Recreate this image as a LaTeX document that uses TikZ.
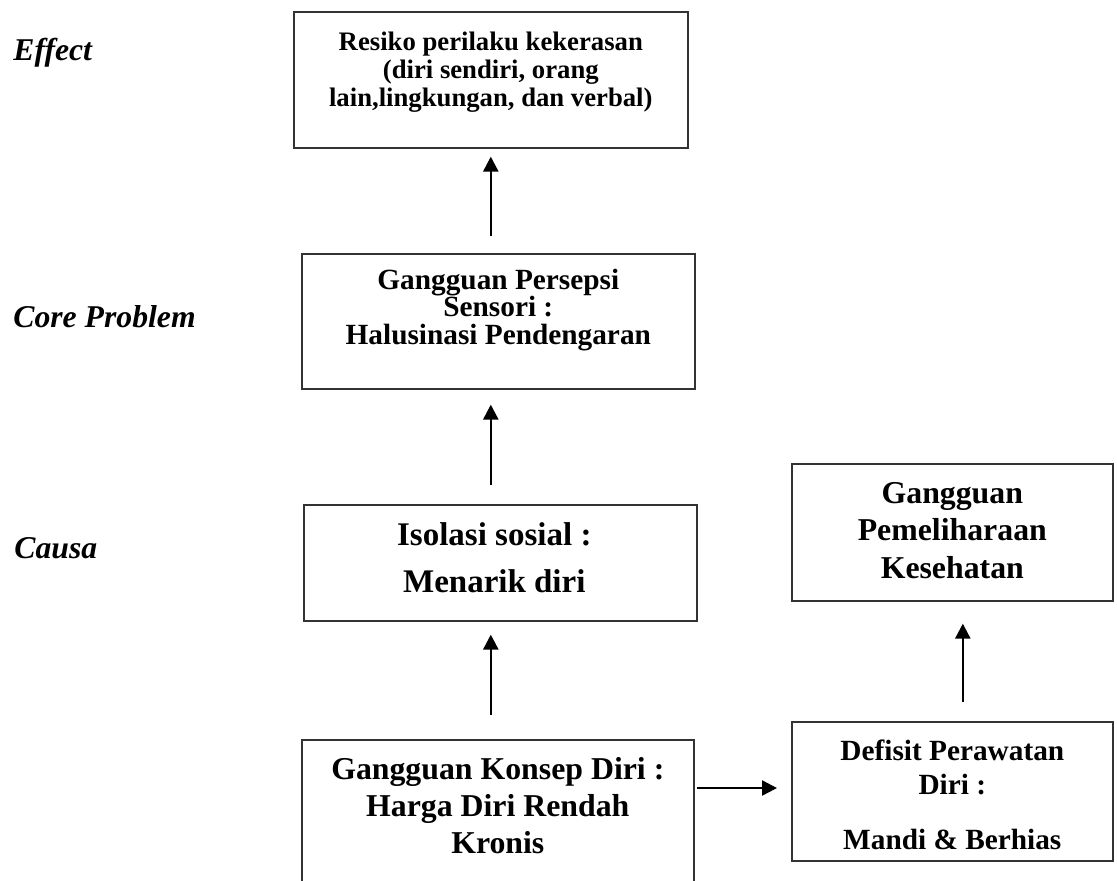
\documentclass[tikz,border=0pt]{standalone}
\usepackage{fontspec}
\setmainfont{Liberation Serif}
\usetikzlibrary{arrows.meta,positioning,calc}
\definecolor{color_border}{HTML}{333333}

\begin{document}
\begin{tikzpicture}[x=0.5pt,y=-0.5pt,
		box/.style={draw=color_border,line width=0.8pt,inner sep=0pt,anchor=north west},
		boxtext/.style n args={2}{align=center,inner sep=0pt,font=\fontsize{#1}{#2}\selectfont\bfseries},
		level/.style={anchor=base west,inner sep=0pt,font=\fontsize{15.85pt}{18pt}\selectfont\bfseries\itshape},
		arr/.style={line width=1.2pt,-{Triangle[length=7.5pt,width=7.5pt]}}]
				\useasboundingbox (0,0) rectangle (1117,880);
				% Levels
				\node[level] (LE) at (13,60) {Effect};
				\node[level] (LC) at (13,327) {Core Problem};
				\node[level] (LCa) at (14,558) {Causa};
				
				% Boxes
				\node[box,minimum width=197pt,minimum height=68pt] (RPK) at (293,11) {};
				\node[box,minimum width=196.5pt,minimum height=67.5pt] (HAL) at (301,253) {};
				\node[box,minimum width=196.5pt,minimum height=58pt] (ISOS) at (303,504) {};
				\node[box,minimum width=196pt,minimum height=75.5pt] (HDR) at (301,739) {};
				\node[box,minimum width=160.5pt,minimum height=68.5pt] (GPK) at (791,463) {};
				\node[box,minimum width=160.5pt,minimum height=69.5pt] (DPD) at (791,721) {};
				
				% Texts
				\node[boxtext={13.35pt}{13.9pt},below=10.5pt of RPK.north] (RPKt)
					{Resiko perilaku kekerasan\\(diri sendiri, orang\\lain,lingkungan, dan verbal)};
				\node[boxtext={14.65pt}{13.8pt},below=7.8pt of HAL.north] (HALt)
					{Gangguan Persepsi\\Sensori :\\Halusinasi Pendengaran};
				\node[boxtext={16.5pt}{23.5pt},below=9pt of ISOS.north,xshift=-3pt] (ISOSt)
					{Isolasi sosial :\\Menarik diri};
				\node[boxtext={15.9pt}{18.5pt},below=9pt of HDR.north] (HDRt)
					{Gangguan Konsep Diri :\\Harga Diri Rendah\\Kronis};
				\node[boxtext={15.9pt}{18.75pt},below=9.5pt of GPK.north] (GPKt)
					{Gangguan\\Pemeliharaan\\Kesehatan};
				\node[boxtext={14.65pt}{17pt},below=9pt of DPD.north] (DPDt)
					{Defisit Perawatan\\Diri :\\[10.5pt]Mandi \& Berhias};
				
				% Arrows
				\draw[arr,shorten <=8.5pt,shorten >=4pt] (HAL.north -| RPK.south) -- (RPK.south);
				\draw[arr,shorten <=9.5pt,shorten >=7.5pt] (ISOS.north -| RPK.south) -- (HAL.south -| RPK.south);
				\draw[arr,shorten <=12pt,shorten >=6.5pt] (HDR.north -| RPK.south) -- (ISOS.south -| RPK.south);
				\draw[arr,shorten <=9.5pt,shorten >=11pt] ([xshift=5.25pt]DPD.north) -- ([xshift=5.25pt]GPK.south);
				\coordinate (HDRout) at ([yshift=-24.5pt]HDR.north east);
				\draw[arr,shorten <=1pt,shorten >=7pt] (HDRout) -- (HDRout -| DPD.west);
			\end{tikzpicture}
\end{document}
